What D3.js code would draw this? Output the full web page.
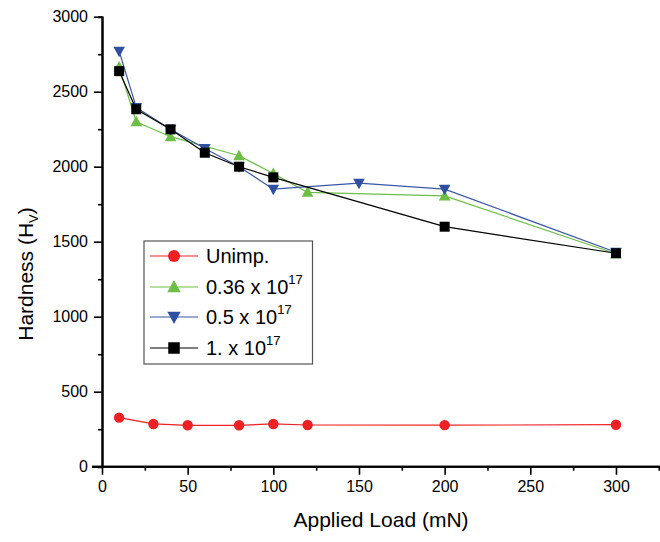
<!DOCTYPE html>
<html><head><meta charset="utf-8">
<script src="https://cdn.jsdelivr.net/npm/d3@7"></script>
<style>body{margin:0;background:#fff;}svg{display:block;font-family:"Liberation Sans",Arial,sans-serif;}</style>
</head><body>
<svg id="c" width="660" height="542"></svg>
<script>
const unimpX = [10, 30, 50, 80, 100, 120, 200, 300];
const unimpY = [327, 285, 276, 276, 285, 278, 277, 280];
const d036X = [10, 20, 40, 80, 100, 120, 200, 300];
const d036Y = [2665, 2300, 2200, 2073, 1955, 1829, 1805, 1420];
const d05X = [10, 20, 40, 60, 80, 100, 150, 200, 300];
const d05Y = [2770, 2395, 2250, 2122, 2000, 1850, 1890, 1850, 1430];
const d1X = [10, 20, 40, 60, 80, 100, 200, 300];
const d1Y = [2637, 2383, 2249, 2093, 2000, 1929, 1600, 1423];
const xTicks = [0, 50, 100, 150, 200, 250, 300];
const yTicks = [0, 500, 1000, 1500, 2000, 2500, 3000];
const seriesNames = ["Unimp.", "0.36 x 10", "0.5 x 10", "1. x 10"];
const seriesSup = ["", "17", "17", "17"];

const FONT = "'Liberation Sans', Arial, sans-serif";
const svg = d3.select("#c");
const x = d3.scaleLinear().domain([0, 325.7]).range([102, 660]);
const y = d3.scaleLinear().domain([0, 3000]).range([466.7, 16.7]);

// axes
const xMinor = d3.range(25, 330, 50);
const yMinor = d3.range(250, 3000, 500);
const gx = svg.append("g").attr("transform", "translate(0,466.7)");
gx.call(d3.axisBottom(x).tickValues(xTicks).tickFormat(d3.format("d")).tickSize(8).tickSizeOuter(0).tickPadding(6));
gx.append("g").call(d3.axisBottom(x).tickValues(xMinor).tickSize(4).tickFormat(""));
const gy = svg.append("g").attr("transform", "translate(102,0)");
gy.call(d3.axisLeft(y).tickValues(yTicks).tickFormat(d3.format("d")).tickSize(8).tickSizeOuter(0).tickPadding(6));
gy.append("g").call(d3.axisLeft(y).tickValues(yMinor).tickSize(4).tickFormat(""));
svg.selectAll(".domain").attr("stroke", "#000").attr("stroke-width", 2);
svg.selectAll(".tick line").attr("stroke", "#000").attr("stroke-width", 1.6);
svg.selectAll(".tick text").attr("font-size", 16).attr("fill", "#000").attr("font-family", FONT);
gx.selectAll(".domain").attr("d", "M92,0H660");

// titles
svg.append("text").attr("x", 381).attr("y", 527).attr("text-anchor", "middle")
  .attr("font-family", FONT).attr("font-size", 21).text("Applied Load (mN)");
const yt = svg.append("text").attr("transform", "translate(33,274) rotate(-90)")
  .attr("text-anchor", "middle").attr("font-family", FONT).attr("font-size", 21);
yt.append("tspan").text("Hardness (H");
yt.append("tspan").attr("font-size", 13).attr("dy", 5).text("V");
yt.append("tspan").attr("dy", -5).text(")");

const series = [
  {xs: unimpX, ys: unimpY, line: "#ED2024", fill: "#ED2024", shape: "circle"},
  {xs: d036X, ys: d036Y, line: "#6DBE45", fill: "#6DBE45", shape: "up"},
  {xs: d05X, ys: d05Y, line: "#3A57A7", fill: "#2F4FA2", shape: "down"},
  {xs: d1X, ys: d1Y, line: "#000", fill: "#000", shape: "square"}
];

function marker(g, shape, cx, cy, s, color) {
  if (shape === "circle") g.append("circle").attr("cx", cx).attr("cy", cy).attr("r", 5.2*s).attr("fill", color);
  else if (shape === "square") g.append("rect").attr("x", cx-5*s).attr("y", cy-5*s).attr("width", 10*s).attr("height", 10*s).attr("fill", color);
  else if (shape === "up") g.append("path").attr("d", `M${cx},${cy-6*s}L${cx+5.8*s},${cy+4.5*s}L${cx-5.8*s},${cy+4.5*s}Z`).attr("fill", color);
  else g.append("path").attr("d", `M${cx},${cy+6*s}L${cx+5.8*s},${cy-4.5*s}L${cx-5.8*s},${cy-4.5*s}Z`).attr("fill", color);
}

const line = d3.line().x(d => x(d[0])).y(d => y(d[1]));
series.forEach(s => {
  const pts = s.xs.map((v, i) => [v, s.ys[i]]);
  const g = svg.append("g");
  g.append("path").attr("d", line(pts)).attr("fill", "none").attr("stroke", s.line).attr("stroke-width", 1.2);
  pts.forEach(p => marker(g, s.shape, x(p[0]), y(p[1]), 1, s.fill));
});

// legend
const lg = svg.append("g");
lg.append("rect").attr("x", 144).attr("y", 241).attr("width", 168.5).attr("height", 123)
  .attr("fill", "#fff").attr("stroke", "#555").attr("stroke-width", 1.2);
const ly = [256, 287, 317, 348];
series.forEach((s, i) => {
  lg.append("line").attr("x1", 150).attr("x2", 198).attr("y1", ly[i]).attr("y2", ly[i]).attr("stroke", s.line).attr("stroke-width", 1.2);
  marker(lg, s.shape, 174, ly[i], 1.15, s.fill);
  const t = lg.append("text").attr("x", 206).attr("y", ly[i] + 7).attr("font-family", FONT).attr("font-size", 20).text(seriesNames[i]);
  if (seriesSup[i]) t.append("tspan").attr("font-size", 13).attr("dy", -10).text(seriesSup[i]);
});
</script>
</body></html>
